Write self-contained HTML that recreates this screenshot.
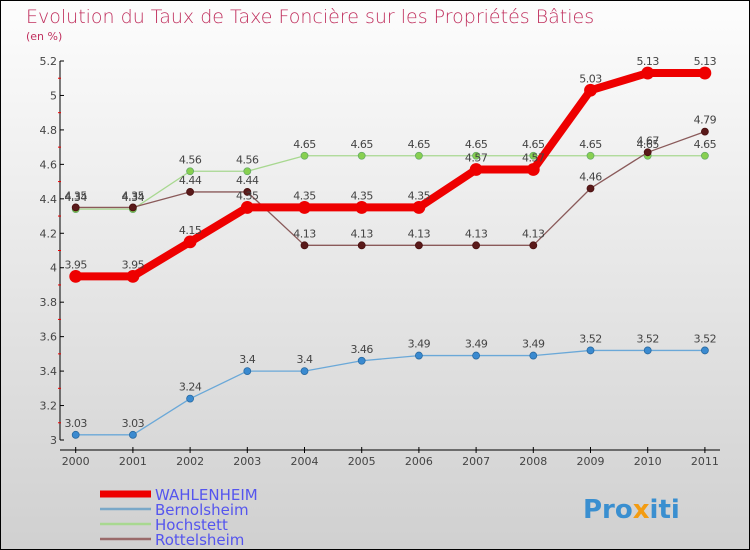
<!DOCTYPE html>
<html><head><meta charset="utf-8"><style>
body{margin:0}
#c{width:750px;height:550px;position:relative;box-sizing:border-box;border:1px solid #000;background:linear-gradient(#fdfdfd,#d0d0d0);font-family:"DejaVu Sans","Liberation Sans",sans-serif;overflow:hidden}
</style></head><body>
<div id="c">
<svg id="s" width="750" height="550" style="position:absolute;left:-1px;top:-1px">
<text x="26" y="23" font-size="19" fill="#c0305e" font-family="DejaVu Sans" font-weight="200">Evolution du Taux de Taxe Foncière sur les Propriétés Bâties</text>
<text x="26" y="40" font-size="11" fill="#c0305e">(en %)</text>
<g id="axes"></g><g id="series"></g><g id="legend"></g>
<text x="583" y="518" font-size="26" font-weight="bold" fill="#3a8fd0">Pro<tspan fill="#f39c12">x</tspan>iti</text>
</svg>
</div>
<script>
const years=[2000,2001,2002,2003,2004,2005,2006,2007,2008,2009,2010,2011];
const yTicks=[3,3.2,3.4,3.6,3.8,4,4.2,4.4,4.6,4.8,5,5.2];
const wahlenheim=[3.95,3.95,4.15,4.35,4.35,4.35,4.35,4.57,4.57,5.03,5.13,5.13];
const bernolsheim=[3.03,3.03,3.24,3.4,3.4,3.46,3.49,3.49,3.49,3.52,3.52,3.52];
const hochstett=[4.34,4.34,4.56,4.56,4.65,4.65,4.65,4.65,4.65,4.65,4.65,4.65];
const rottelsheim=[4.35,4.35,4.44,4.44,4.13,4.13,4.13,4.13,4.13,4.46,4.67,4.79];
const NS="http://www.w3.org/2000/svg";
const xs=i=>75.7+i*57.2;
const ys=v=>440-(v-3)/2.2*379;
function mk(t,a,p){const e=document.createElementNS(NS,t);for(const k in a)e.setAttribute(k,a[k]);p.appendChild(e);return e;}
const ax=document.getElementById('axes');
let l=mk('line',{x1:60,y1:61,x2:60,y2:440,stroke:'#000','stroke-width':1},ax);


l=mk('line',{x1:60,y1:450,x2:720,y2:450,stroke:'#000','stroke-width':1},ax);


yTicks.forEach((v,i)=>{
 const y=ys(v);
 mk('line',{x1:60,y1:y,x2:64,y2:y,stroke:'#000'},ax);
 if(i<yTicks.length-1)mk('line',{x1:58,y1:ys(v+0.1),x2:61,y2:ys(v+0.1),stroke:'#e00'},ax);
 const t=mk('text',{x:57,y:y+4,'font-size':11,fill:'#444','text-anchor':'end'},ax);
 t.textContent=String(v);
 
 
});
years.forEach((yr,i)=>{
 mk('line',{x1:xs(i),y1:447,x2:xs(i),y2:453,stroke:'#000'},ax);
 const t=mk('text',{x:xs(i),y:465,'font-size':11,fill:'#444','text-anchor':'middle'},ax);
 t.textContent=yr;
 
 
});
const sg=document.getElementById('series');
function series(name,vals,color,w,r,dot,lc){
 const g=mk('g',{},sg);
 
 
 mk('polyline',{points:vals.map((v,i)=>xs(i)+','+ys(v)).join(' '),fill:'none',stroke:color,'stroke-width':w,'stroke-linejoin':'round'},g);
 vals.forEach((v,i)=>{
  const c=mk('circle',{cx:xs(i),cy:ys(v),r:r,fill:dot,stroke:lc,'stroke-width':0.8},g);
  
  
  const t=mk('text',{x:xs(i),y:ys(v)-8,'font-size':11,fill:'#444','text-anchor':'middle','letter-spacing':'-0.5'},g);
  t.textContent=String(v);
  
  
 });
}
series('hochstett',hochstett,'#a8d890',1.3,3.5,'#88d050','#6a6');
series('rottelsheim',rottelsheim,'#8a5a5a',1.3,3.5,'#5a1a1a','#4a1010');
series('bernolsheim',bernolsheim,'#6aa8d8',1.3,3.5,'#3a8ad0','#2a6aa0');
series('wahlenheim',wahlenheim,'#ee0000',8,6,'#ee0000','#e00');
const lg=document.getElementById('legend');
[['WAHLENHEIM','#ee0000',7],['Bernolsheim','#7aa8c8',2.5],['Hochstett','#a8d890',2.5],['Rottelsheim','#9a6a6a',2.5]].forEach((d,i)=>{
 const y=494+i*15;
 const g=mk('g',{},lg);
 
 
 mk('line',{x1:100,y1:y,x2:151,y2:y,stroke:d[1],'stroke-width':d[2]},g);
 const t=mk('text',{x:155,y:y+6,'font-size':15,fill:'#5555ee'},g);
 t.textContent=d[0];
});
</script>
</body></html>
